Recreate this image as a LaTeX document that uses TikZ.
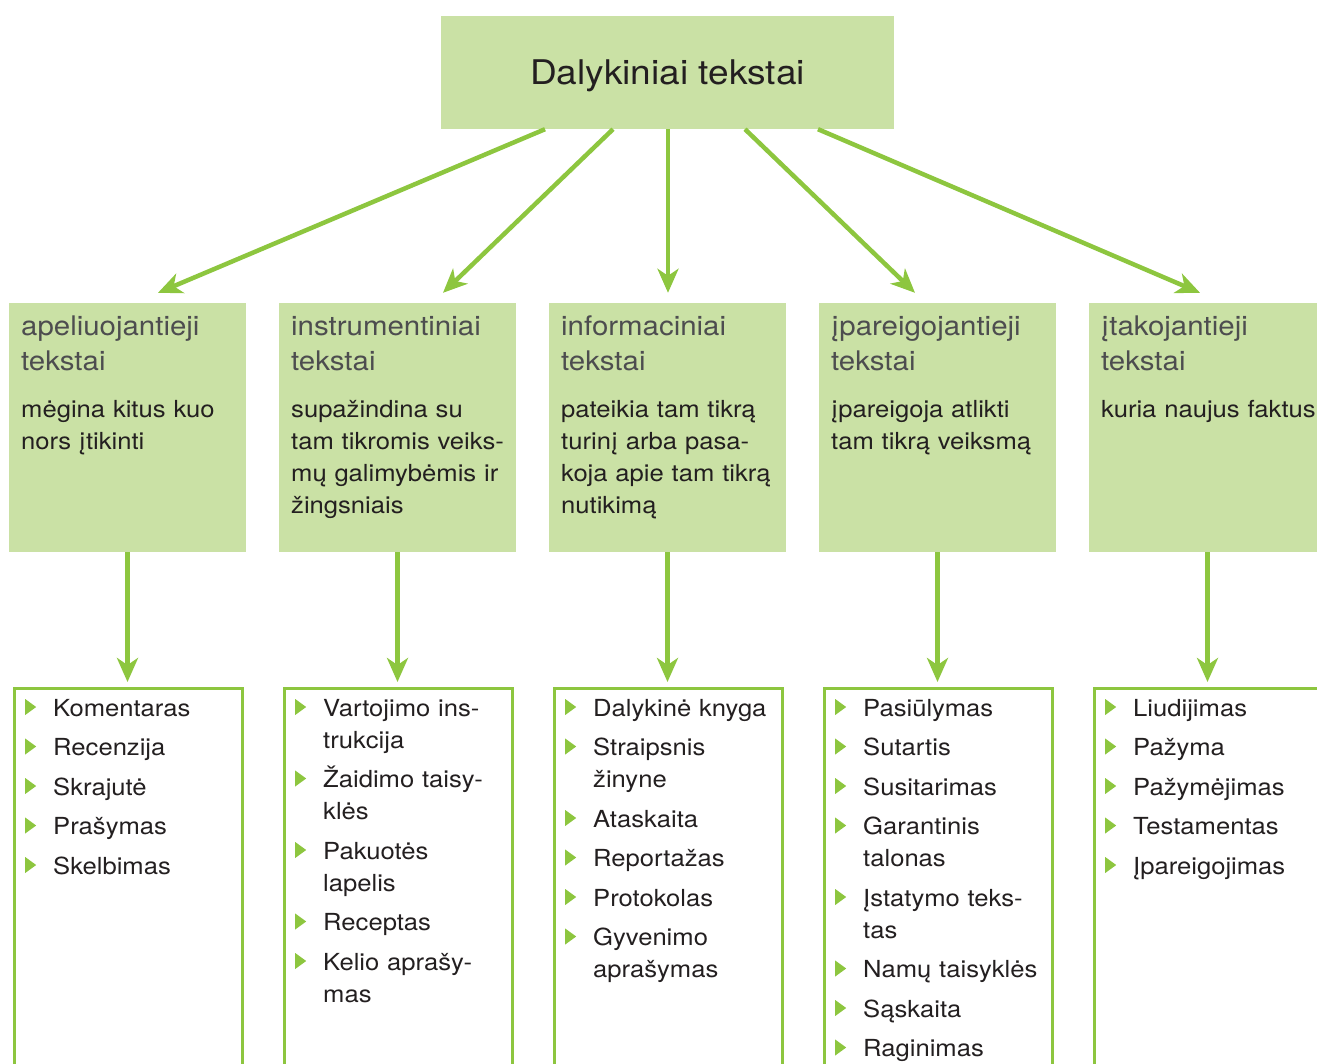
\documentclass[tikz,border=0pt]{standalone}
\usepackage{fontspec}
\setmainfont{TeX Gyre Heros}[FakeStretch=1.09]
\usetikzlibrary{arrows.meta}
\definecolor{boxgreen}{RGB}{202,225,165}
\definecolor{linegreen}{RGB}{141,198,63}
\definecolor{txtdark}{RGB}{35,31,32}
\definecolor{txtgray}{RGB}{77,77,79}
\newcommand\hd{\fontsize{27}{35}\selectfont\color{txtgray}}
\newcommand\bul{\tikz[baseline=0pt]\fill[linegreen](0pt,1pt)--(0pt,17pt)--(11pt,9pt)--cycle;}
\newcommand\itm[1]{\noindent\hangindent=28pt\hangafter=1\makebox[28pt][l]{\bul}#1\par\vspace{7.5pt}}
\begin{document}
\begin{tikzpicture}[x=1pt,y=-1pt,
  topbox/.style={fill=boxgreen,minimum width=453pt,minimum height=113pt,inner sep=0pt,
    text=txtdark,font=\fontsize{34}{40}\selectfont,text depth=0pt},
  midbox/.style={fill=boxgreen,minimum width=237pt,minimum height=249pt,inner sep=0pt},
  midtxt/.style={anchor=base west,inner sep=0pt,text width=225pt,align=left,text=txtdark,
    font=\fontsize{23.5}{32}\selectfont},
  listbox/.style={draw=linegreen,line width=3pt,minimum width=228pt,minimum height=411.5pt,inner sep=0pt},
  listtxt/.style={anchor=base west,inner sep=0pt,text width=210pt,text=txtdark,
    font=\fontsize{23.5}{32}\selectfont},
  arr/.style={draw=linegreen,line width=4.5pt,-{Stealth[length=24pt,width=21pt,inset=7pt]}}]
\useasboundingbox (0,0) rectangle (1317,1063);
\clip (0,0) rectangle (1317,1063);

\node[topbox](0) at (667.5,72.5){Dalykiniai tekstai};

\node[midbox](1) at (127.5,427.5){};
\node[midbox](2) at (397.5,427.5){};
\node[midbox](3) at (667.5,427.5){};
\node[midbox](4) at (937.5,427.5){};
\node[midbox](5) at (1207.5,427.5){};

\node[midtxt](t1) at (21,335){{\hd apeliuojantieji\\tekstai\par}\vspace{15pt}mėgina kitus kuo\\nors įtikinti};
\node[midtxt](t2) at (291,335){{\hd instrumentiniai\\tekstai\par}\vspace{15pt}supažindina su\\tam tikromis veiks-\\mų galimybėmis ir\\žingsniais};
\node[midtxt](t3) at (561,335){{\hd informaciniai\\tekstai\par}\vspace{15pt}pateikia tam tikrą\\turinį arba pasa-\\koja apie tam tikrą\\nutikimą};
\node[midtxt](t4) at (831,335){{\hd įpareigojantieji\\tekstai\par}\vspace{15pt}įpareigoja atlikti\\tam tikrą veiksmą};
\node[midtxt](t5) at (1101,335){{\hd įtakojantieji\\tekstai\par}\vspace{15pt}kuria naujus faktus};

\node[listbox](6) at (128.2,894.25){};
\node[listbox](7) at (398.2,894.25){};
\node[listbox](8) at (668.2,894.25){};
\node[listbox](9) at (938.2,894.25){};
\node[listbox](10) at (1208.2,894.25){};

\node[listtxt](l1) at (25,716){\raggedright\itm{Komentaras}\itm{Recenzija}\itm{Skrajutė}\itm{Prašymas}\itm{Skelbimas}};
\node[listtxt](l2) at (295,716){\raggedright\itm{Vartojimo ins-\break trukcija}\itm{Žaidimo taisy-\break klės}\itm{Pakuotės\break lapelis}\itm{Receptas}\itm{Kelio aprašy-\break mas}};
\node[listtxt](l3) at (565,716){\raggedright\itm{Dalykinė knyga}\itm{Straipsnis\break žinyne}\itm{Ataskaita}\itm{Reportažas}\itm{Protokolas}\itm{Gyvenimo\break aprašymas}};
\node[listtxt](l4) at (835,716){\raggedright\itm{Pasiūlymas}\itm{Sutartis}\itm{Susitarimas}\itm{Garantinis\break talonas}\itm{Įstatymo teks-\break tas}\itm{Namų taisyklės}\itm{Sąskaita}\itm{Raginimas}};
\node[listtxt](l5) at (1105,716){\raggedright\itm{Liudijimas}\itm{Pažyma}\itm{Pažymėjimas}\itm{Testamentas}\itm{Įpareigojimas}};

% top box to the five kinds
\draw [arr] ([xshift=-122.5pt]0.south) -- ([shift={(30.5pt,10pt)}]1.north);
\draw [arr] ([xshift=-54.5pt]0.south) -- ([shift={(45.5pt,10pt)}]2.north);
\draw [arr] ([xshift=0.5pt]0.south) -- ([shift={(0.5pt,10pt)}]3.north);
\draw [arr] ([xshift=77.5pt]0.south) -- ([shift={(-22.5pt,10pt)}]4.north);
\draw [arr] ([xshift=150.5pt]0.south) -- ([shift={(-7.5pt,10pt)}]5.north);

% kinds to their lists
\draw [arr] (1.south) -- ([yshift=5pt]1.south |- 6.north);
\draw [arr] (2.south) -- ([yshift=5pt]2.south |- 7.north);
\draw [arr] (3.south) -- ([yshift=5pt]3.south |- 8.north);
\draw [arr] (4.south) -- ([yshift=5pt]4.south |- 9.north);
\draw [arr] (5.south) -- ([yshift=5pt]5.south |- 10.north);
\end{tikzpicture}
\end{document}
